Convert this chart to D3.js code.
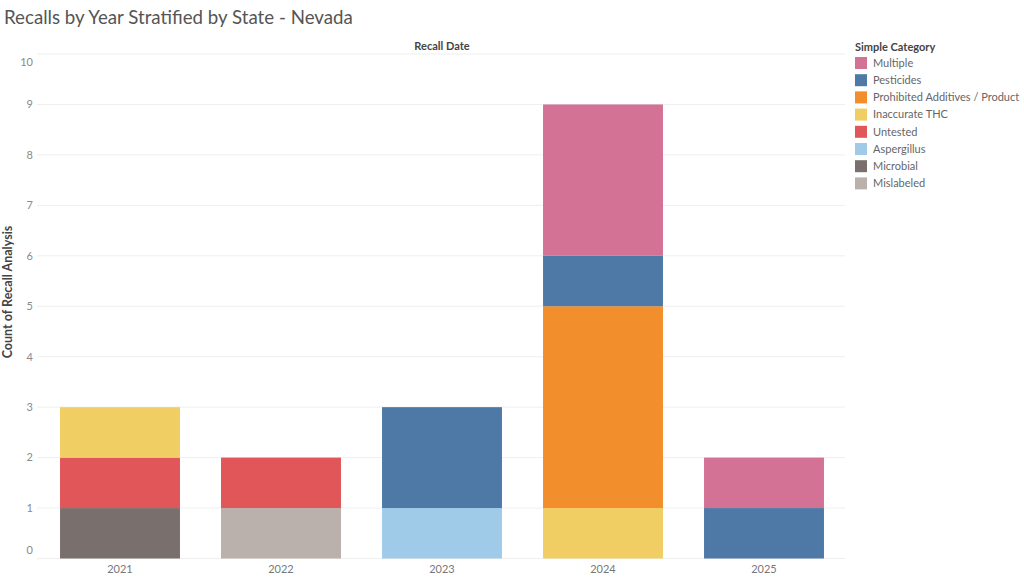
<!DOCTYPE html>
<html><head><meta charset="utf-8">
<script src="https://cdn.jsdelivr.net/npm/d3@7"></script>
<style>body{margin:0;background:#fff;} svg{display:block;font-family:Lato,"Open Sans",sans-serif;}</style>
</head><body>
<script>
const years = ["2021","2022","2023","2024","2025"];
const categories = ["Multiple","Pesticides","Prohibited Additives / Product","Inaccurate THC","Untested","Aspergillus","Microbial","Mislabeled"];
const colors = ["#d37295","#4e79a7","#f28e2b","#f1ce63","#e15759","#a0cbe8","#79706e","#bab0ac"];
// counts per category, per year (2021..2025)
const multiple     = [0,0,0,3,1];
const pesticides   = [0,0,2,1,1];
const prohibited   = [0,0,0,4,0];
const inaccurate   = [1,0,0,1,0];
const untested     = [1,1,0,0,0];
const aspergillus  = [0,0,1,0,0];
const microbial    = [1,0,0,0,0];
const mislabeled   = [0,1,0,0,0];
const yTicks = [0,1,2,3,4,5,6,7,8,9,10];

const series = [multiple,pesticides,prohibited,inaccurate,untested,aspergillus,microbial,mislabeled];
const rows = years.map((y,i)=>{const r={year:y}; categories.forEach((c,j)=>r[c]=series[j][i]); return r;});

const W=1024,H=577;
const svg=d3.select("body").append("svg").attr("width",W).attr("height",H);
const m={left:37,right:845,top:54,bottom:558.5};

const x=d3.scaleBand().domain(years).range([39.5,844.5]).paddingInner(0.255).paddingOuter(0.1275);
const y=d3.scaleLinear().domain([0,10]).range([m.bottom,m.top]);

// gridlines
svg.append("g").selectAll("line").data(yTicks).join("line")
  .attr("x1",m.left).attr("x2",m.right).attr("y1",d=>y(d)).attr("y2",d=>y(d))
  .attr("stroke","#efefef").attr("stroke-width",1);

// y tick labels (top/bottom labels nudged inward like the original)
svg.append("g").selectAll("text").data(yTicks).join("text")
  .attr("x",33).attr("y",d=>y(d)+(d===10?8:d===0?-8:0)).attr("dy","0.35em").attr("text-anchor","end")
  .attr("font-size",11).attr("fill","#8a8a8a").text(d=>d);

// stack bottom->top is reverse of legend order
const stackKeys=categories.slice().reverse();
const stack=d3.stack().keys(stackKeys)(rows);
const colorOf=d3.scaleOrdinal().domain(categories).range(colors);
svg.append("g").selectAll("g").data(stack).join("g").attr("fill",d=>colorOf(d.key))
  .selectAll("rect").data(d=>d.filter(s=>s[1]-s[0]>0)).join("rect")
  .attr("x",d=>x(d.data.year)).attr("width",x.bandwidth())
  .attr("y",d=>y(d[1])).attr("height",d=>y(d[0])-y(d[1]));

// x labels
svg.append("g").selectAll("text").data(years).join("text")
  .attr("x",d=>x(d)+x.bandwidth()/2).attr("y",573).attr("text-anchor","middle")
  .attr("font-size",11).attr("fill","#777").text(d=>d);

// header
svg.append("text").attr("x",(m.left+m.right)/2+1).attr("y",50).attr("text-anchor","middle")
  .attr("font-size",11).attr("font-weight","bold").attr("fill","#444").text("Recall Date");

// y title
svg.append("text").attr("transform",`translate(12,${292}) rotate(-90)`)
  .attr("text-anchor","middle").attr("font-size",12.5).attr("font-weight","bold").attr("fill","#444")
  .text("Count of Recall Analysis");

// title
svg.append("text").attr("x",4).attr("y",24).attr("font-size",18.7).attr("fill","#555")
  .text("Recalls by Year Stratified by State - Nevada");

// legend
const lg=svg.append("g");
lg.append("text").attr("x",855).attr("y",51).attr("font-size",11).attr("font-weight","bold").attr("fill","#444").text("Simple Category");
const item=lg.selectAll("g.it").data(categories).join("g").attr("class","it")
  .attr("transform",(d,i)=>`translate(855,${57+i*17.2})`);
item.append("rect").attr("width",12).attr("height",12).attr("fill",d=>colorOf(d));
item.append("text").attr("x",18).attr("y",6).attr("dy","0.35em").attr("font-size",11).attr("fill","#666").text(d=>d);
</script>
</body></html>
